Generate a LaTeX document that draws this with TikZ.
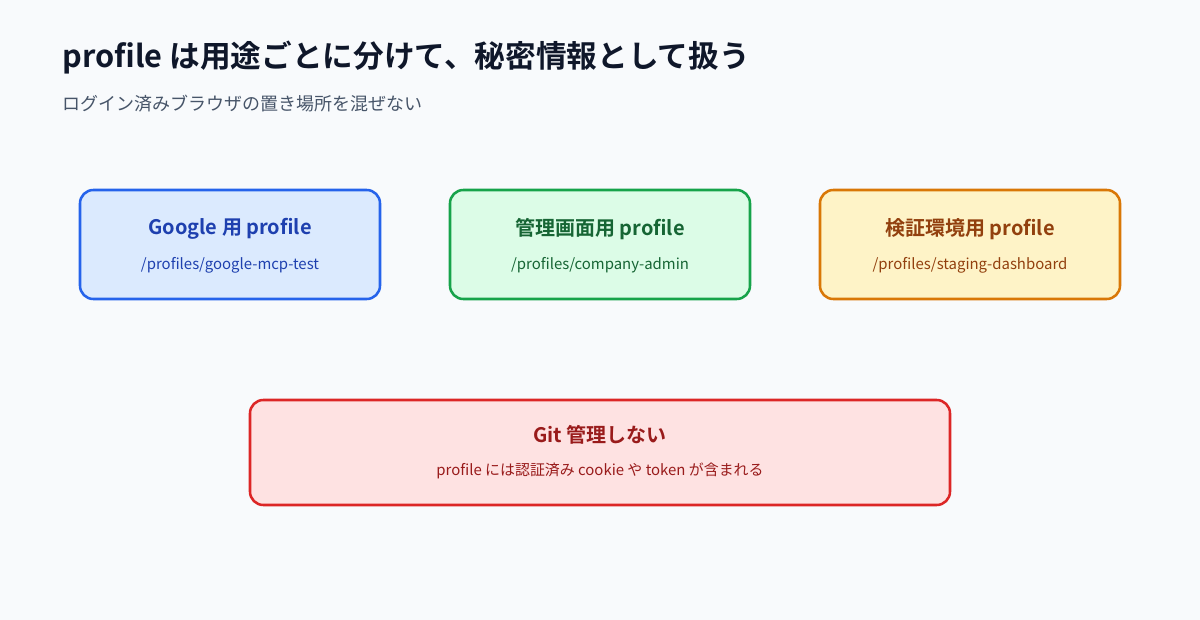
\documentclass[tikz,border=0pt]{standalone}
\usepackage{fontspec}
\setmainfont{Noto Sans CJK JP}[BoldFont={Noto Sans CJK JP Bold}]
\definecolor{bg}{HTML}{F8FAFC}
\definecolor{ttl}{HTML}{0F172A}
\definecolor{sub}{HTML}{475569}
\definecolor{bB}{HTML}{2563EB}\definecolor{bF}{HTML}{DBEAFE}\definecolor{bT}{HTML}{1E40AF}
\definecolor{gB}{HTML}{16A34A}\definecolor{gF}{HTML}{DCFCE7}\definecolor{gT}{HTML}{166534}
\definecolor{oB}{HTML}{D97706}\definecolor{oF}{HTML}{FEF3C7}\definecolor{oT}{HTML}{92400E}
\definecolor{rB}{HTML}{DC2626}\definecolor{rF}{HTML}{FEE2E2}\definecolor{rT}{HTML}{991B1B}
\begin{document}
\begin{tikzpicture}[x=0.75pt,y=-0.75pt,
  box/.style n args={2}{draw=#1,fill=#2,line width=1.9pt,rounded corners=10pt,inner sep=0pt},
  bt/.style={font=\fontsize{15}{18}\selectfont\bfseries},
  bs/.style={font=\fontsize{11.2}{14}\selectfont}]
\fill[bg] (0,0) rectangle (1200,620);
\useasboundingbox (0,0) rectangle (1200,620);
\node[anchor=west,text=ttl,font=\fontsize{23}{28}\selectfont\bfseries] (title) at (58,58) {profile は用途ごとに分けて、秘密情報として扱う};
\node[anchor=west,text=sub,font=\fontsize{13.5}{16}\selectfont] (subt) at (58,104) {ログイン済みブラウザの置き場所を混ぜない};
\draw[box={bB}{bF}] (80,190) rectangle (380,299) coordinate (b1);
\node[bt,text=bT] (b1t) at (230,229) {Google 用 profile};
\node[bs,text=bT] (b1s) at (230,265) {/profiles/google-mcp-test};
\draw[box={gB}{gF}] (450,190) rectangle (750,299);
\node[bt,text=gT] (b2t) at (600,229) {管理画面用 profile};
\node[bs,text=gT] (b2s) at (600,265) {/profiles/company-admin};
\draw[box={oB}{oF}] (820,190) rectangle (1120,299);
\node[bt,text=oT] (b3t) at (970,229) {検証環境用 profile};
\node[bs,text=oT] (b3s) at (970,265) {/profiles/staging-dashboard};
\draw[box={rB}{rF}] (250,400) rectangle (950,505);
\node[bt,text=rT] (b4t) at (600,435) {Git 管理しない};
\node[bs,text=rT] (b4s) at (600,471) {profile には認証済み cookie や token が含まれる};
\end{tikzpicture}
\end{document}
